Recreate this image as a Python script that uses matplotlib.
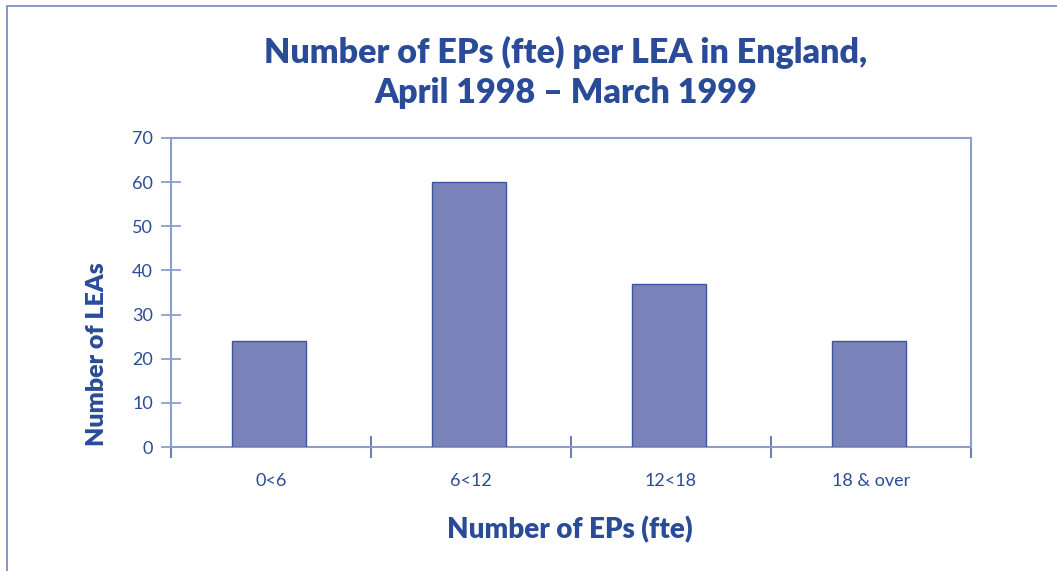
import matplotlib
matplotlib.use("Agg")
import matplotlib.pyplot as plt
from matplotlib.patches import Rectangle
import numpy as np

categories = ["0<6", "6<12", "12<18", "18 & over"]
values = [24, 60, 37, 24]
yticks = [0, 10, 20, 30, 40, 50, 60, 70]

TXT = "#2a4c98"
AX = "#8a9fc9"
BAR = "#7a82ba"
EDGE = "#3d56a0"

plt.rcParams['font.family'] = ['Lato', 'DejaVu Sans']

W, H = 1057, 571
fig = plt.figure(figsize=(W/100, H/100), dpi=100)
fig.patch.set_facecolor("white")

# outer frame
fig.patches.append(Rectangle((7/W, -0.05), 1.2, 1 - 6/H + 0.05, transform=fig.transFigure,
                             fill=False, edgecolor="#6f86bd", linewidth=1.2))

ax = fig.add_axes([171/W, 1 - 447/H, 800/W, 309/H])
x = np.arange(len(categories))
ax.bar(x - 0.01, values, width=0.37, color=BAR, edgecolor=EDGE, linewidth=1.0, zorder=3)
ax.set_xlim(-0.5, len(categories) - 0.5)
ax.set_ylim(0, 70)

for s in ax.spines.values():
    s.set_color(AX)
    s.set_linewidth(1.5)

ax.set_yticks(yticks)
ax.set_yticklabels([str(v) for v in yticks], color=TXT, fontsize=13)
ax.tick_params(axis='y', direction='inout', length=14, width=1.3, color=AX, pad=6)

ax.set_xticks(x)
ax.set_xticklabels(categories, color=TXT, fontsize=13)
ax.tick_params(axis='x', length=0, pad=19)
ax.set_xticks(np.arange(len(categories) + 1) - 0.5, minor=True)
ax.tick_params(axis='x', which='minor', direction='inout', length=16, width=1.1, color=EDGE)

fig.text(97/W, 1 - 354/H, "Number of LEAs", rotation=90, ha='center', va='center',
         color=TXT, fontsize=18, fontweight='heavy')
fig.text(570/W, 1 - 530/H, "Number of EPs (fte)", ha='center', va='center',
         color=TXT, fontsize=20, fontweight='heavy')

fig.text(566/W, 1 - 52/H, "Number of EPs (fte) per LEA in England,", ha='center', va='center',
         color=TXT, fontsize=24.5, fontweight='heavy')
fig.text(566/W, 1 - 93/H, "April 1998 \u2013 March 1999", ha='center', va='center',
         color=TXT, fontsize=24.5, fontweight='heavy')

fig.savefig("out.png", dpi=100)
